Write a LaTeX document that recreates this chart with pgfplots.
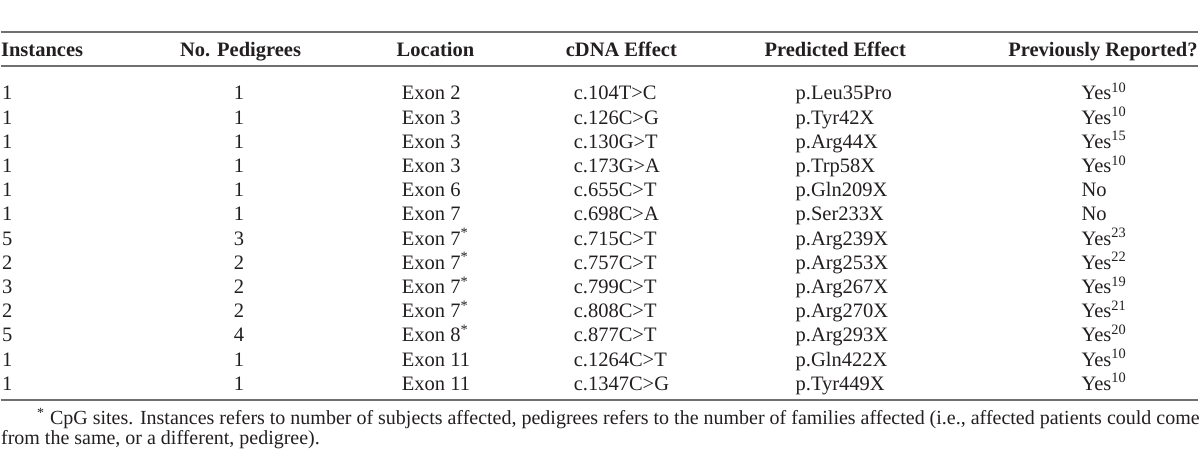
\documentclass[border=0pt]{standalone}
\usepackage{fontspec}
\setmainfont{Liberation Serif}
\usepackage{pgfplots}
\usepackage{pgfplotstable}
\pgfplotsset{compat=1.18}
\definecolor{ink}{HTML}{231F20}
\definecolor{rulegray}{HTML}{707070}

% one row per mutation, row = 0 at the top
\pgfplotstableread[col sep=comma]{
row,inst,ped,loc,cdna,pred,prev
0,1,1,Exon 2,c.104T>C,p.Leu35Pro,Yes\textsuperscript{10}
1,1,1,Exon 3,c.126C>G,p.Tyr42X,Yes\textsuperscript{10}
2,1,1,Exon 3,c.130G>T,p.Arg44X,Yes\textsuperscript{15}
3,1,1,Exon 3,c.173G>A,p.Trp58X,Yes\textsuperscript{10}
4,1,1,Exon 6,c.655C>T,p.Gln209X,No
5,1,1,Exon 7,c.698C>A,p.Ser233X,No
6,5,3,Exon 7\textsuperscript{*},c.715C>T,p.Arg239X,Yes\textsuperscript{23}
7,2,2,Exon 7\textsuperscript{*},c.757C>T,p.Arg253X,Yes\textsuperscript{22}
8,3,2,Exon 7\textsuperscript{*},c.799C>T,p.Arg267X,Yes\textsuperscript{19}
9,2,2,Exon 7\textsuperscript{*},c.808C>T,p.Arg270X,Yes\textsuperscript{21}
10,5,4,Exon 8\textsuperscript{*},c.877C>T,p.Arg293X,Yes\textsuperscript{20}
11,1,1,Exon 11,c.1264C>T,p.Gln422X,Yes\textsuperscript{10}
12,1,1,Exon 11,c.1347C>G,p.Tyr449X,Yes\textsuperscript{10}
}\mutations

\pgfplotsset{
  cell/.style={draw=none, nodes near coords, point meta=explicit symbolic,
    nodes near coords align={anchor=base west},
    every node near coord/.append style={anchor=base west, inner sep=0pt,
      font=\fontsize{10}{12}\selectfont, text=ink}},
}

\begin{document}
\begin{tikzpicture}
\begin{axis}[
  scale only axis, width=585pt, height=222.4pt,
  xmin=0, xmax=1200, ymin=0, ymax=456, y dir=reverse,
  hide axis, clip=false,
]
\path (axis cs:0,0) rectangle (axis cs:1200,456);

% rules
\draw[rulegray, line width=0.7pt] (axis cs:0,32) -- (axis cs:1198,32);
\draw[rulegray, line width=0.7pt] (axis cs:0,66) -- (axis cs:1198,66);
\draw[rulegray, line width=0.7pt] (axis cs:0,400) -- (axis cs:1198,400);

% header
\begin{scope}[every node/.style={inner sep=0pt, text=ink, font=\fontsize{10}{12}\selectfont\bfseries}]
\node[anchor=base west] at (axis cs:0,57) {Instances};
\node[anchor=base] at (axis cs:240,57) {No. Pedigrees};
\node[anchor=base] at (axis cs:435,57) {Location};
\node[anchor=base] at (axis cs:621,57) {cDNA Effect};
\node[anchor=base] at (axis cs:835,57) {Predicted Effect};
\node[anchor=base east] at (axis cs:1198,57) {Previously Reported?};
\end{scope}

% body
\addplot[cell] table[x expr=1, y expr=100+24.2*\thisrow{row}, meta=inst] {\mutations};
\addplot[cell] table[x expr=233, y expr=100+24.2*\thisrow{row}, meta=ped] {\mutations};
\addplot[cell] table[x expr=401, y expr=100+24.2*\thisrow{row}, meta=loc] {\mutations};
\addplot[cell] table[x expr=573, y expr=100+24.2*\thisrow{row}, meta=cdna] {\mutations};
\addplot[cell] table[x expr=795, y expr=100+24.2*\thisrow{row}, meta=pred] {\mutations};
\addplot[cell] table[x expr=1081, y expr=100+24.2*\thisrow{row}, meta=prev] {\mutations};

% footnote
\begin{scope}[every node/.style={inner sep=0pt, text=ink, anchor=base west, font=\fontsize{9.75}{11}\selectfont}]
\node at (axis cs:36,425) {\textsuperscript{*} CpG sites. Instances refers to number of subjects affected, pedigrees refers to the number of families affected (i.e., affected patients could come};
\node at (axis cs:0,445) {from the same, or a different, pedigree).};
\end{scope}
\end{axis}
\end{tikzpicture}
\end{document}
